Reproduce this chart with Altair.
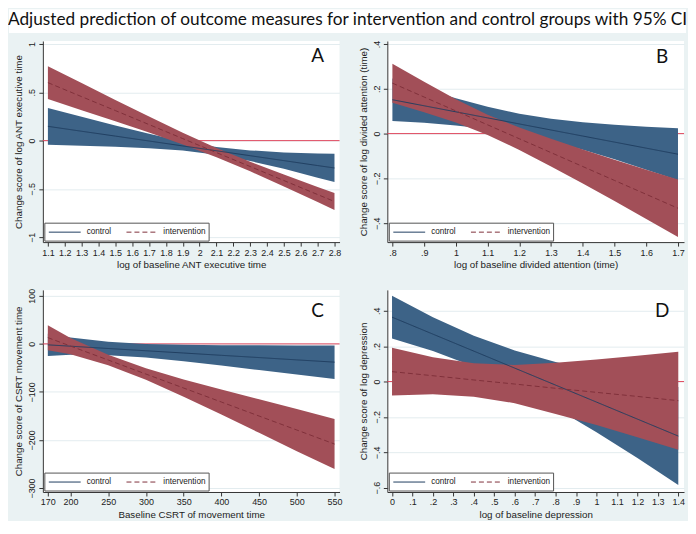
import altair as alt
import pandas as pd

BG = "#eaf2f3"
BLUE_FILL = "#3d6387"
RED_FILL = "#a24f58"
BLUE_LINE = "#1f3d60"
RED_LINE = "#80303a"
REF = "#e0485e"
AX = "#333333"

groups = ["control", "intervention"]

# Panel A
a_x = [1.1, 1.3, 1.5, 1.7, 1.9, 2.1, 2.3, 2.5, 2.7, 2.8]
a_ctrl_mean = [0.148, 0.097, 0.047, -0.004, -0.055, -0.105, -0.156, -0.207, -0.258, -0.283]
a_ctrl_lo = [-0.042, -0.053, -0.063, -0.079, -0.102, -0.145, -0.211, -0.292, -0.383, -0.429]
a_ctrl_hi = [0.338, 0.247, 0.157, 0.071, -0.008, -0.065, -0.101, -0.122, -0.133, -0.137]
a_int_mean = [0.600, 0.455, 0.311, 0.166, 0.021, -0.124, -0.268, -0.413, -0.558, -0.630]
a_int_lo = [0.430, 0.315, 0.201, 0.083, -0.039, -0.171, -0.318, -0.475, -0.636, -0.717]
a_int_hi = [0.770, 0.595, 0.421, 0.249, 0.081, -0.077, -0.218, -0.351, -0.480, -0.543]
a_xticks = [1.1, 1.2, 1.3, 1.4, 1.5, 1.6, 1.7, 1.8, 1.9, 2.0, 2.1, 2.2, 2.3, 2.4, 2.5, 2.6, 2.7, 2.8]
a_yticks = [-1, -0.5, 0, 0.5, 1]

# Panel B
b_x = [0.8, 0.9, 1.0, 1.1, 1.2, 1.3, 1.4, 1.5, 1.6, 1.7]
b_ctrl_mean = [0.151, 0.124, 0.097, 0.070, 0.043, 0.016, -0.011, -0.038, -0.065, -0.092]
b_ctrl_lo = [0.056, 0.048, 0.036, 0.020, -0.002, -0.034, -0.072, -0.115, -0.161, -0.208]
b_ctrl_hi = [0.246, 0.200, 0.158, 0.120, 0.088, 0.066, 0.050, 0.039, 0.031, 0.024]
b_int_mean = [0.225, 0.163, 0.101, 0.039, -0.023, -0.085, -0.147, -0.209, -0.271, -0.333]
b_int_lo = [0.138, 0.095, 0.049, -0.006, -0.073, -0.147, -0.223, -0.301, -0.381, -0.461]
b_int_hi = [0.312, 0.231, 0.153, 0.084, 0.027, -0.023, -0.071, -0.117, -0.161, -0.205]
b_xticks = [0.8, 0.9, 1.0, 1.1, 1.2, 1.3, 1.4, 1.5, 1.6, 1.7]
b_yticks = [-0.4, -0.2, 0, 0.2, 0.4]

# Panel C
c_x = [170, 200, 250, 300, 350, 400, 450, 500, 550]
c_ctrl_mean = [-2, -4.8, -9.6, -14.3, -19, -23.8, -28.5, -33.3, -38]
c_ctrl_lo = [-25, -22.8, -23.6, -28.3, -36, -44.8, -54.5, -63.8, -73]
c_ctrl_hi = [21, 13.2, 4.4, -0.3, -2.0, -2.8, -3.0, -3.2, -3.5]
c_int_mean = [13, -4.5, -33.6, -62.8, -91.9, -121, -150.2, -179.3, -208.5]
c_int_lo = [-13, -21.5, -44.6, -74.8, -109.9, -147, -185.2, -223.3, -260.5]
c_int_hi = [39, 12.5, -22.6, -50.8, -73.9, -95, -115.2, -135.3, -156.5]
c_xticks = [170, 200, 250, 300, 350, 400, 450, 500, 550]
c_yticks = [-300, -200, -100, 0, 100]

# Panel D
d_x = [0, 0.2, 0.4, 0.6, 0.8, 1.0, 1.2, 1.4]
d_ctrl_mean = [0.364, 0.268, 0.172, 0.076, -0.020, -0.116, -0.212, -0.308]
d_ctrl_lo = [0.243, 0.173, 0.085, -0.024, -0.150, -0.286, -0.432, -0.585]
d_ctrl_hi = [0.485, 0.363, 0.259, 0.176, 0.110, 0.054, 0.008, -0.031]
d_int_mean = [0.056, 0.033, 0.009, -0.014, -0.038, -0.061, -0.084, -0.108]
d_int_lo = [-0.079, -0.072, -0.086, -0.122, -0.183, -0.246, -0.314, -0.385]
d_int_hi = [0.191, 0.138, 0.104, 0.094, 0.107, 0.124, 0.146, 0.169]
d_xticks = [0, 0.1, 0.2, 0.3, 0.4, 0.5, 0.6, 0.7, 0.8, 0.9, 1.0, 1.1, 1.2, 1.3, 1.4]
d_yticks = [-0.6, -0.4, -0.2, 0, 0.2, 0.4]

TITLE = "Adjusted prediction of outcome measures for intervention and control groups with 95% CI"

LABEL_EXPR = "replace(format(datum.value, '.1~f'), '0.', '.')"
W = 298
ONE = pd.DataFrame({"k": [0]})


def make_df(x, cm, cl, ch, im, il, ih):
    rows = []
    for i in range(len(x)):
        rows.append({"x": x[i], "mean": cm[i], "lo": cl[i], "hi": ch[i], "group": "control"})
    for i in range(len(x)):
        rows.append({"x": x[i], "mean": im[i], "lo": il[i], "hi": ih[i], "group": "intervention"})
    return pd.DataFrame(rows)


def legend_layers(h):
    ly = h - 10
    box = alt.Chart(ONE).mark_rect(fill="white", stroke="#555", strokeWidth=1).encode(
        x=alt.value(2), x2=alt.value(167), y=alt.value(h - 19), y2=alt.value(h - 1)
    )
    s1 = alt.Chart(ONE).mark_rule(color=BLUE_LINE, strokeWidth=1).encode(
        x=alt.value(6), x2=alt.value(38), y=alt.value(ly)
    )
    s2 = alt.Chart(ONE).mark_rule(color=RED_LINE, strokeWidth=1, strokeDash=[5, 3]).encode(
        x=alt.value(84), x2=alt.value(116), y=alt.value(ly)
    )
    t1 = alt.Chart(pd.DataFrame({"t": [groups[0]]})).mark_text(
        font="Liberation Sans", fontSize=8.2, align="left", baseline="middle", color="#222"
    ).encode(text="t:N", x=alt.value(44), y=alt.value(ly))
    t2 = alt.Chart(pd.DataFrame({"t": [groups[1]]})).mark_text(
        font="Liberation Sans", fontSize=8.2, align="left", baseline="middle", color="#222"
    ).encode(text="t:N", x=alt.value(121), y=alt.value(ly))
    return [box, s1, s2, t1, t2]


def panel(df, xdom, ydom, xticks, yticks, xtitle, ytitle, letter, h, letter_y, with_title=False):
    xs = alt.Scale(domain=xdom, nice=False, zero=False)
    ys = alt.Scale(domain=ydom, nice=False, zero=False)
    xax = alt.Axis(values=xticks, title=xtitle, labelExpr=LABEL_EXPR, grid=False,
                   labelPadding=2, titlePadding=3, labelFlush=False)
    yax = alt.Axis(values=yticks, title=ytitle, labelExpr=LABEL_EXPR, grid=True,
                   labelAngle=270, labelAlign="center", labelBaseline="bottom",
                   labelPadding=2, titlePadding=4, labelFlush=False)
    base = alt.Chart(df)
    ref = alt.Chart(pd.DataFrame({"y": [0]})).mark_rule(color=REF, strokeWidth=1).encode(
        y=alt.Y("y:Q", scale=ys, axis=yax)
    )
    areas = base.mark_area(opacity=1).encode(
        x=alt.X("x:Q", scale=xs, axis=xax),
        y=alt.Y("lo:Q", scale=ys, axis=yax),
        y2="hi:Q",
        fill=alt.Fill("group:N", scale=alt.Scale(domain=groups, range=[BLUE_FILL, RED_FILL]), legend=None),
    )
    lines = base.mark_line(strokeWidth=1).encode(
        x=alt.X("x:Q", scale=xs, axis=xax),
        y=alt.Y("mean:Q", scale=ys, axis=yax),
        stroke=alt.Stroke("group:N", scale=alt.Scale(domain=groups, range=[BLUE_LINE, RED_LINE]), legend=None),
        strokeDash=alt.StrokeDash("group:N", scale=alt.Scale(domain=groups, range=[[1, 0], [5, 3]]), legend=None),
    )
    let = alt.Chart(pd.DataFrame({"t": [letter]})).mark_text(
        font="Lato", fontSize=19, align="center", baseline="middle", color="#111"
    ).encode(text="t:N", x=alt.value(W - 22), y=alt.value(letter_y))
    layers = []
    if with_title:
        band = alt.Chart(ONE).mark_rect(color="white").encode(
            x=alt.value(-34), x2=alt.value(646), y=alt.value(-32), y2=alt.value(-8)
        )
        ttl = alt.Chart(pd.DataFrame({"t": [TITLE]})).mark_text(
            font="Lato", fontSize=17.3, align="left", baseline="middle", color="#111"
        ).encode(text="t:N", x=alt.value(-35), y=alt.value(-21))
        layers += [band, ttl]
    layers += [ref, areas, lines, let] + legend_layers(h)
    return alt.layer(*layers).properties(width=W, height=h)


pa = panel(make_df(a_x, a_ctrl_mean, a_ctrl_lo, a_ctrl_hi, a_int_mean, a_int_lo, a_int_hi),
           [1.07, 2.83], [-1.05, 1.031], a_xticks, a_yticks,
           "log of baseline ANT executive time", "Change score of log ANT executive time",
           "A", 202, 15, with_title=True)
pb = panel(make_df(b_x, b_ctrl_mean, b_ctrl_lo, b_ctrl_hi, b_int_mean, b_int_lo, b_int_hi),
           [0.784, 1.719], [-0.484, 0.413], b_xticks, b_yticks,
           "log of baseline divided attention (time)", "Change score of log divided attention (time)",
           "B", 202, 16)
pc = panel(make_df(c_x, c_ctrl_mean, c_ctrl_lo, c_ctrl_hi, c_int_mean, c_int_lo, c_int_hi),
           [163.4, 556.6], [-308.3, 112.4], c_xticks, c_yticks,
           "Baseline CSRT of movement time", "Change score of CSRT movement time",
           "C", 203, 21)
pd_ = panel(make_df(d_x, d_ctrl_mean, d_ctrl_lo, d_ctrl_hi, d_int_mean, d_int_lo, d_int_hi),
            [-0.023, 1.428], [-0.624, 0.518], d_xticks, d_yticks,
            "log of baseline depression", "Change score of log depression",
            "D", 203, 21)

chart = alt.concat(pa, pb, pc, pd_, columns=2, spacing=48, bounds="flush").resolve_scale(
    x="independent", y="independent", fill="independent", stroke="independent", strokeDash="independent"
).properties(
    background=BG, padding=0
).configure_view(fill="white", stroke=None).configure_axis(
    domainColor=AX, tickColor=AX, tickSize=4, labelFont="Liberation Sans", labelFontSize=9,
    labelColor="#222", titleFont="Liberation Sans", titleFontSize=9.8, titleFontWeight="normal",
    titleColor="#222", gridColor="#e3ecef", gridWidth=1
)

chart.save("out.html", embed_options={"renderer": "svg", "actions": False})
